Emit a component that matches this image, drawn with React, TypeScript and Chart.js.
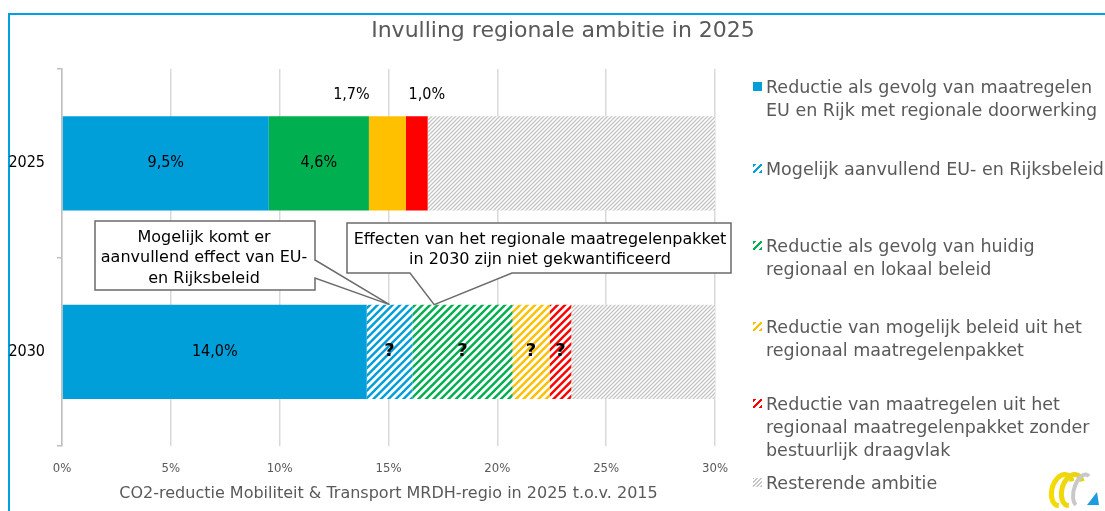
import React, { useEffect, useRef } from "react";
import { Chart, registerables } from "chart.js";

Chart.register(...registerables);

// ---------- data ----------
const categories = ["2025", "2030"];
const euRijk = [9.5, 14.0];
const extraEuRijk = [0, 2.1];
const regionaalLokaal = [4.6, 4.6];
const mogelijkBeleid = [1.7, 1.7];
const zonderDraagvlak = [1.0, 1.0];
const resterend = [13.2, 6.6];
// is the effect quantified (true) or not (false: hatched, "?")
const regionalQuantified = [true, false];

const seriesNames = [
  "Reductie als gevolg van maatregelen\nEU en Rijk met regionale doorwerking",
  "Mogelijk aanvullend EU- en Rijksbeleid",
  "Reductie als gevolg van huidig\nregionaal en lokaal beleid",
  "Reductie van mogelijk beleid uit het\nregionaal maatregelenpakket",
  "Reductie van maatregelen uit het\nregionaal maatregelenpakket zonder\nbestuurlijk draagvlak",
  "Resterende ambitie",
];
const xTicks = [0, 5, 10, 15, 20, 25, 30];
const chartTitle = "Invulling regionale ambitie in 2025";
const xTitle = "CO2-reductie Mobiliteit & Transport MRDH-regio in 2025 t.o.v. 2015";
const callout1 = ["Mogelijk komt er", "aanvullend effect van EU-", "en Rijksbeleid"];
const callout2 = ["Effecten van het regionale maatregelenpakket", "in 2030 zijn niet gekwantificeerd"];

// ---------- style ----------
const FONT = "'DejaVu Sans', sans-serif";
const NUMFONT = "'DejaVu Sans Condensed', 'DejaVu Sans', sans-serif";
const BLUE = "#009FDA";
const GREEN = "#00B050";
const YELLOW = "#FFC000";
const RED = "#FF0000";
const TEXT_GREY = "#595959";

function stripePattern(color: string, period: number, lineWidth: number): CanvasPattern | string {
  const tile = period * 2;
  const c = document.createElement("canvas");
  c.width = tile;
  c.height = tile;
  const g = c.getContext("2d");
  if (!g) return color;
  g.fillStyle = "#ffffff";
  g.fillRect(0, 0, tile, tile);
  g.strokeStyle = color;
  g.lineWidth = lineWidth;
  g.beginPath();
  for (let k = 0; k <= 4; k++) {
    const s = k * period;
    g.moveTo(-2, s + 2);
    g.lineTo(s + 2, -2);
  }
  g.stroke();
  return g.createPattern(c, "repeat") || color;
}

const fmt = (v: number) => v.toFixed(1).replace(".", ",") + "%";

function buildConfig(): any {
  const hb = stripePattern(BLUE, 7.5, 2.4);
  const hg = stripePattern(GREEN, 7.5, 2.4);
  const hy = stripePattern(YELLOW, 7.5, 2.4);
  const hr = stripePattern(RED, 7.5, 2.4);
  const hgrey = stripePattern("#C4C4C4", 4, 1.3);
  const pick = (solid: string, hatch: any) => regionalQuantified.map((q) => (q ? solid : hatch));

  const datasets = [
    { label: seriesNames[0], data: euRijk, backgroundColor: BLUE },
    { label: seriesNames[1], data: extraEuRijk, backgroundColor: hb },
    { label: seriesNames[2], data: regionaalLokaal, backgroundColor: pick(GREEN, hg) },
    { label: seriesNames[3], data: mogelijkBeleid, backgroundColor: pick(YELLOW, hy) },
    { label: seriesNames[4], data: zonderDraagvlak, backgroundColor: pick(RED, hr) },
    { label: seriesNames[5], data: resterend, backgroundColor: hgrey },
  ].map((d) => ({ ...d, borderWidth: 0, barPercentage: 1, categoryPercentage: 0.5 }));

  const quantified: (boolean[] | null)[] = [
    [true, true],
    [false, false],
    regionalQuantified,
    regionalQuantified,
    regionalQuantified,
    null,
  ];
  const aboveShift = [0, 0, 0, -36, 10, 0];

  const labelPlugin = {
    id: "segLabels",
    afterDatasetsDraw(chart: any) {
      const ctx = chart.ctx;
      ctx.save();
      ctx.textAlign = "center";
      ctx.textBaseline = "middle";
      ctx.fillStyle = "#000";
      chart.data.datasets.forEach((ds: any, di: number) => {
        const q = quantified[di];
        if (!q) return;
        const meta = chart.getDatasetMeta(di);
        meta.data.forEach((el: any, i: number) => {
          const v = ds.data[i];
          if (!v) return;
          const known = q[i];
          const { x, base, y, height } = el.getProps(["x", "base", "y", "height"], true);
          let cx = (x + base) / 2;
          let cy = y;
          if (known && Math.abs(x - base) < 45) {
            cx += aboveShift[di];
            cy = y - height / 2 - 21;
          }
          ctx.font = known ? `16px ${NUMFONT}` : `bold 18px ${FONT}`;
          ctx.fillText(known ? fmt(v) : "?", cx, cy);
        });
      });
      ctx.restore();
    },
  };

  const calloutPlugin = {
    id: "callouts",
    afterDatasetsDraw(chart: any) {
      const ctx = chart.ctx;
      const xs = chart.scales.x;
      const el = chart.getDatasetMeta(0).data[1];
      const barTop = el.y - el.height / 2;
      const tip1 = xs.getPixelForValue(euRijk[1] + extraEuRijk[1] / 2);
      const tip2 = xs.getPixelForValue(euRijk[1] + extraEuRijk[1] + 1.0);
      ctx.save();
      ctx.lineWidth = 1.5;
      ctx.strokeStyle = "#6b6b6b";
      ctx.fillStyle = "#ffffff";
      ctx.beginPath();
      ctx.moveTo(95, 221);
      ctx.lineTo(315, 221);
      ctx.lineTo(315, 260);
      ctx.lineTo(tip1, barTop);
      ctx.lineTo(315, 278);
      ctx.lineTo(315, 290);
      ctx.lineTo(95, 290);
      ctx.closePath();
      ctx.fill();
      ctx.stroke();
      ctx.beginPath();
      ctx.moveTo(347, 223);
      ctx.lineTo(731, 223);
      ctx.lineTo(731, 273);
      ctx.lineTo(512, 273);
      ctx.lineTo(tip2, barTop);
      ctx.lineTo(410, 273);
      ctx.lineTo(347, 273);
      ctx.closePath();
      ctx.fill();
      ctx.stroke();
      ctx.fillStyle = "#000";
      ctx.font = `16px ${FONT}`;
      ctx.textAlign = "center";
      ctx.textBaseline = "alphabetic";
      callout1.forEach((t, i) => ctx.fillText(t, 204, 242 + i * 20.3));
      callout2.forEach((t, i) => ctx.fillText(t, 540, 243.5 + i * 20));
      ctx.restore();
    },
  };

  const logoPlugin = {
    id: "logo",
    afterDraw(chart: any) {
      const ctx = chart.ctx;
      ctx.save();
      const grad = ctx.createLinearGradient(1050, 0, 1080, 0);
      grad.addColorStop(0, "#F5DC00");
      grad.addColorStop(1, "#E8D21A");
      ctx.lineWidth = 5;
      ctx.strokeStyle = grad;
      ctx.beginPath();
      ctx.ellipse(1062, 490, 10, 16, 0.3, Math.PI * 0.45, Math.PI * 1.75);
      ctx.stroke();
      ctx.beginPath();
      ctx.ellipse(1072, 490, 10, 16, 0.3, Math.PI * 0.45, Math.PI * 1.75);
      ctx.stroke();
      ctx.strokeStyle = "#C8C8C8";
      ctx.lineWidth = 4;
      ctx.beginPath();
      ctx.ellipse(1082, 490, 8, 16, 0.3, Math.PI * 0.55, Math.PI * 1.6);
      ctx.stroke();
      ctx.fillStyle = "#1E9BE0";
      ctx.beginPath();
      ctx.moveTo(1087, 505);
      ctx.lineTo(1099, 505);
      ctx.lineTo(1097, 492);
      ctx.closePath();
      ctx.fill();
      ctx.restore();
    },
  };

  return {
    type: "bar",
    data: { labels: categories, datasets },
    options: {
      indexAxis: "y",
      animation: false,
      responsive: false,
      maintainAspectRatio: false,
      layout: { padding: { left: 0, top: 69, right: 390, bottom: 0 } },
      font: { family: FONT },
      scales: {
        x: {
          stacked: true,
          min: xTicks[0],
          max: xTicks[xTicks.length - 1],
          afterBuildTicks: (s: any) => {
            s.ticks = xTicks.map((v) => ({ value: v }));
          },
          ticks: {
            callback: (v: any) => v + "%",
            color: TEXT_GREY,
            font: { family: NUMFONT, size: 13 },
            padding: 15,
            maxRotation: 0,
          },
          grid: { color: "#D9D9D9", lineWidth: 1.5, drawTicks: false },
          border: { display: false },
          title: {
            display: true,
            text: xTitle,
            color: TEXT_GREY,
            font: { family: FONT, size: 16 },
            padding: { top: 4, bottom: 8 },
          },
          afterFit: (s: any) => {
            s.height = 65;
          },
        },
        y: {
          stacked: true,
          grid: { offset: true, drawOnChartArea: false, tickLength: 5, color: "#BFBFBF", lineWidth: 1.5 },
          border: { color: "#BFBFBF", width: 1.5 },
          ticks: { color: "#000", font: { family: NUMFONT, size: 16 }, padding: 12 },
          afterFit: (s: any) => {
            s.width = 62;
          },
        },
      },
      plugins: {
        legend: { display: false },
        title: { display: false },
        tooltip: { enabled: false },
      },
    },
    plugins: [labelPlugin, calloutPlugin, logoPlugin],
  };
}

const legendSwatch = [
  BLUE,
  `repeating-linear-gradient(135deg, ${BLUE} 0 2.4px, #fff 2.4px 5.3px)`,
  `repeating-linear-gradient(135deg, ${GREEN} 0 2.4px, #fff 2.4px 5.3px)`,
  `repeating-linear-gradient(135deg, ${YELLOW} 0 2.4px, #fff 2.4px 5.3px)`,
  `repeating-linear-gradient(135deg, ${RED} 0 2.4px, #fff 2.4px 5.3px)`,
  `repeating-linear-gradient(135deg, #C4C4C4 0 1.3px, #fff 1.3px 2.8px)`,
];
const legendBaseline = [93, 175, 252, 333, 410, 489];

export default function App() {
  const ref = useRef<HTMLCanvasElement>(null);
  useEffect(() => {
    if (!ref.current) return;
    const chart = new Chart(ref.current, buildConfig());
    return () => chart.destroy();
  }, []);
  return (
    <div
      style={{
        position: "fixed",
        left: 0,
        top: 0,
        width: 1105,
        height: 511,
        overflow: "hidden",
        background: "#fff",
        fontFamily: FONT,
      }}
    >
      <div
        style={{
          position: "absolute",
          left: 8,
          top: 13,
          width: 1300,
          height: 700,
          borderTop: "2px solid #00A0E3",
          borderLeft: "2px solid #00A0E3",
        }}
      />
      <canvas
        ref={ref}
        width={1105}
        height={511}
        style={{ position: "absolute", left: 0, top: 0, width: 1105, height: 511 }}
      />
      <div
        style={{
          position: "absolute",
          left: 0,
          top: 17,
          width: 1126,
          textAlign: "center",
          fontSize: 22,
          lineHeight: "26px",
          color: TEXT_GREY,
          whiteSpace: "nowrap",
        }}
      >
        {chartTitle}
      </div>
      {seriesNames.map((name, i) => (
        <React.Fragment key={i}>
          <div
            style={{
              position: "absolute",
              left: 753,
              top: legendBaseline[i] - 11,
              width: 9,
              height: 9,
              background: legendSwatch[i],
            }}
          />
          <div
            style={{
              position: "absolute",
              left: 766,
              top: legendBaseline[i] - 17.3,
              fontSize: 17.5,
              lineHeight: "23px",
              color: TEXT_GREY,
              whiteSpace: "pre",
            }}
          >
            {name}
          </div>
        </React.Fragment>
      ))}
    </div>
  );
}
